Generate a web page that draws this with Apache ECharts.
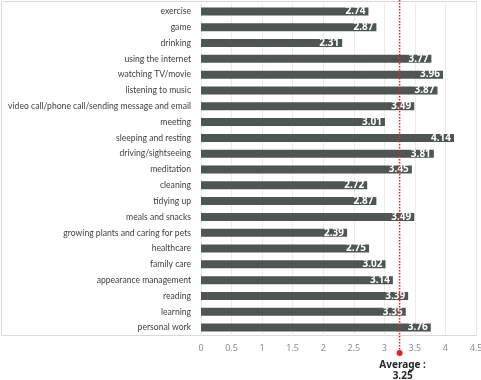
<!DOCTYPE html>
<html>
<head>
<meta charset="utf-8">
<script src="https://cdn.jsdelivr.net/npm/echarts@6/dist/echarts.min.js"></script>
<style>
  html, body { margin: 0; padding: 0; background: #fff; }
  #main { width: 481px; height: 380px; }
</style>
</head>
<body>
<div id="main"></div>
<script>
(function() {
    var categories = ['exercise', 'game', 'drinking', 'using the internet', 'watching TV/movie',
        'listening to music', 'video call/phone call/sending message and email', 'meeting',
        'sleeping and resting', 'driving/sightseeing', 'meditation', 'cleaning', 'tidying up',
        'meals and snacks', 'growing plants and caring for pets', 'healthcare', 'family care',
        'appearance management', 'reading', 'learning', 'personal work'];
    var scores = [2.74, 2.87, 2.31, 3.77, 3.96, 3.87, 3.49, 3.01, 4.14, 3.81, 3.45,
        2.72, 2.87, 3.49, 2.39, 2.75, 3.02, 3.14, 3.39, 3.35, 3.76];
    var average = 3.25;
    var averageLabel = ['Average :', '3.25'];

    var myChart = echarts.init(document.getElementById('main'));
    var option = {
        animation: false,
        textStyle: { fontFamily: 'Noto Sans' },
        graphic: [{
            type: 'rect',
            shape: { x: 1.5, y: 1.5, width: 475, height: 334 },
            style: { fill: 'none', stroke: '#d9d9d9', lineWidth: 1 },
            z: -1
        }],
        grid: [
            { left: 201, width: 275, top: 3.5, height: 332, outerBoundsMode: 'none', containLabel: false },
            { left: 201, width: 275, top: 0, height: 353, outerBoundsMode: 'none', containLabel: false }
        ],
        xAxis: [{
            type: 'value',
            gridIndex: 0,
            min: 0,
            max: 4.5,
            interval: 0.5,
            axisLine: { show: false },
            axisTick: { show: false },
            axisLabel: { color: '#8c8c8c', fontSize: 9, margin: 8 },
            splitLine: { lineStyle: { color: '#ebebeb' } }
        }, {
            type: 'value',
            gridIndex: 1,
            min: 0,
            max: 4.5,
            show: false
        }],
        yAxis: [{
            type: 'category',
            gridIndex: 0,
            inverse: true,
            data: categories,
            axisLine: { show: false },
            axisTick: { show: false },
            axisLabel: { color: '#404040', fontSize: 8.6, fontFamily: 'Lato', margin: 10 }
        }, {
            type: 'value',
            gridIndex: 1,
            min: 0,
            max: 1,
            show: false
        }],
        series: [{
            name: 'score',
            type: 'bar',
            data: scores,
            barWidth: 8,
            itemStyle: { color: '#4f5553' },
            label: {
                show: true,
                position: 'insideRight',
                distance: 3,
                color: '#ffffff',
                fontSize: 10,
                fontWeight: 'bold'
            },
            z: 2
        }, {
            name: 'average',
            type: 'line',
            xAxisIndex: 1,
            yAxisIndex: 1,
            data: [
                { value: [average, 1], symbol: 'none' },
                {
                    value: [average, 0],
                    symbol: 'circle',
                    symbolSize: 6,
                    label: {
                        show: true,
                        position: 'bottom',
                        distance: 4,
                        offset: [3, 0],
                        formatter: averageLabel.join('\n'),
                        color: '#262626',
                        fontSize: 10,
                        fontWeight: 'bold',
                        lineHeight: 11
                    }
                }
            ],
            lineStyle: { color: '#e02424', width: 1.5, type: 'dotted' },
            itemStyle: { color: '#e02424' },
            z: 5
        }]
    };
    myChart.setOption(option);
})();
</script>
</body>
</html>
